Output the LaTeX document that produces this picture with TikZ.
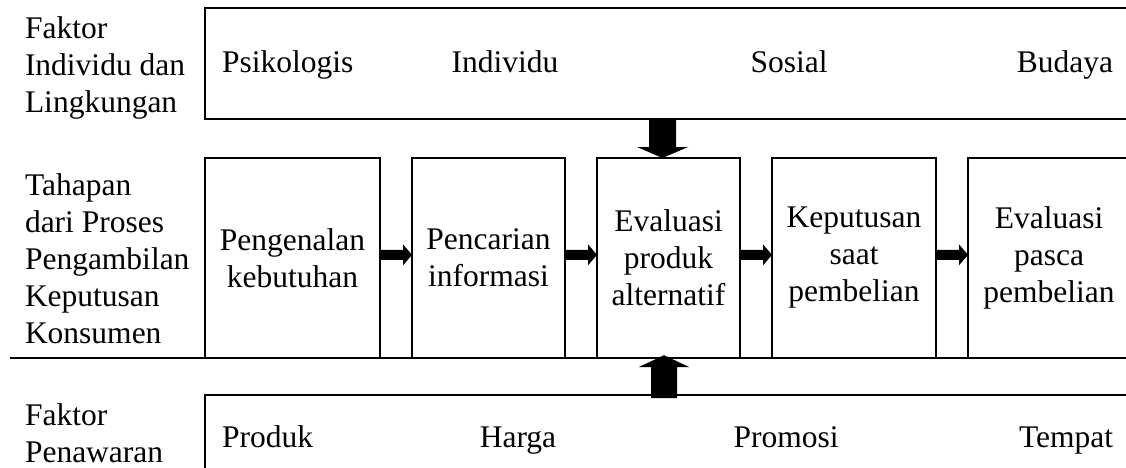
\documentclass[tikz,border=0pt]{standalone}
\usepackage{fontspec}
\setmainfont{Liberation Serif}
\usetikzlibrary{calc}
\newcommand\hblockarrow[2]{%
  \fill let \p1=(#1.east), \p2=(#2.west) in
    (\x1,{\y1+8pt}) -- ({\x2-9pt},{\y1+8pt}) -- ({\x2-9pt},{\y1+13.5pt}) -- (\x2,{\y1+3pt})
    -- ({\x2-9pt},{\y1-7.5pt}) -- ({\x2-9pt},{\y1-2pt}) -- (\x1,{\y1-2pt}) -- cycle;}
\begin{document}
\begin{tikzpicture}[x=1pt,y=-1pt,
  every node/.style={font=\fontsize{31.5}{37}\selectfont, inner sep=0pt, outer sep=0pt},
  frame/.style={draw, line width=1.6pt, rectangle, anchor=north west},
  stage/.style={frame, align=center, minimum height=199.7pt},
  lbl/.style={align=left, anchor=west}]
\useasboundingbox (0,0) rectangle (1126,468);
\clip (0,0) rectangle (1126,468);
% frames
\node[frame, minimum width=925pt, minimum height=111pt] (top) at (205,8) {};
\node[frame, minimum width=925pt, minimum height=90pt] (bot) at (205,395) {};
\node[stage, minimum width=175pt] (b1) at (205,158) {Pengenalan\\kebutuhan};
\node[stage, minimum width=153pt] (b2) at (412,158) {Pencarian\\informasi};
\node[stage, minimum width=143pt] (b3) at (597,158) {Evaluasi\\produk\\alternatif};
\node[stage, minimum width=164pt] (b4) at (772,158) {Keputusan\\saat\\pembelian};
\node[stage, minimum width=162pt] (b5) at (968,158) {Evaluasi\\pasca\\pembelian};
% long divider line
\coordinate (lineL) at (10,357.7);
\coordinate (lineR) at (1130,357.7);
\draw[line width=1.6pt] (lineL) -- (lineR);
% left labels
\node[lbl] (l1) at (25,67.5) {Faktor\\Individu dan\\Lingkungan};
\node[lbl] (l2) at (25,258.5) {Tahapan\\dari Proses\\Pengambilan\\Keputusan\\Konsumen};
\node[lbl] (l3) at (25,433.5) {Faktor\\Penawaran};
% top factors
\node[anchor=base west] (f1) at (222,73) {Psikologis};
\node[anchor=base] (f2) at (505,73) {Individu};
\node[anchor=base] (f3) at (789,73) {Sosial};
\node[anchor=base east] (f4) at (1113,73) {Budaya};
% offer factors
\node[anchor=base west] (o1) at (222,447) {Produk};
\node[anchor=base] (o2) at (518,447) {Harga};
\node[anchor=base] (o3) at (786,447) {Promosi};
\node[anchor=base east] (o4) at (1113,447) {Tempat};
% horizontal arrows
\hblockarrow{b1}{b2}
\hblockarrow{b2}{b3}
\hblockarrow{b3}{b4}
\hblockarrow{b4}{b5}
% down arrow
\fill let \p1=(top.south), \p2=(b3.north) in
  ({\x2-19.5pt},{\y1-1pt}) -- ({\x2-19.5pt},{\y2+11pt}) -- ({\x2-31.5pt},{\y2+11pt}) -- ({\x2-6pt},\y2)
  -- ({\x2+19.5pt},{\y2+11pt}) -- ({\x2+7.5pt},{\y2+11pt}) -- ({\x2+7.5pt},{\y1-1pt}) -- cycle;
% up arrow
\fill let \p1=(bot.north), \p2=(b3.south) in
  ({\x2-17.5pt},{\y1-3pt}) -- ({\x2-17.5pt},{\y2-9.5pt}) -- ({\x2-30pt},{\y2-9.5pt}) -- ({\x2-4.5pt},{\y2+2.5pt})
  -- ({\x2+21pt},{\y2-9.5pt}) -- ({\x2+8.5pt},{\y2-9.5pt}) -- ({\x2+8.5pt},{\y1-3pt}) -- cycle;
\end{tikzpicture}
\end{document}
